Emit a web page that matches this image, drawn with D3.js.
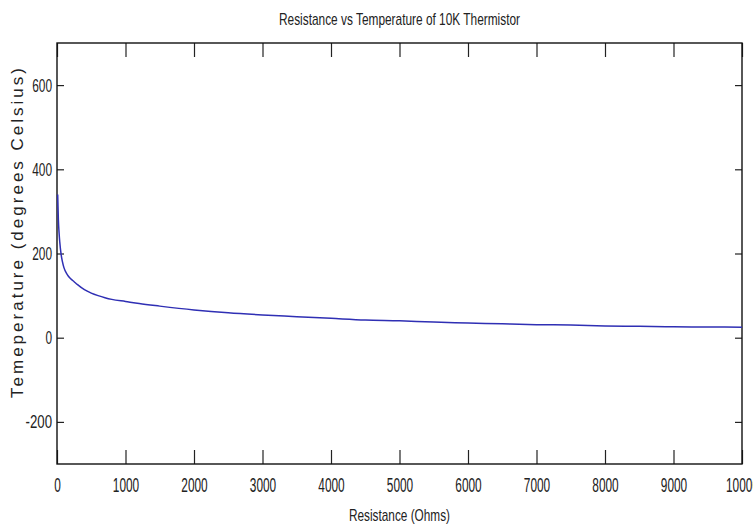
<!DOCTYPE html>
<html>
<head>
<meta charset="utf-8">
<script src="https://d3js.org/d3.v7.min.js"></script>
<style>
  body { margin: 0; background: #fff; }
  svg { display: block; font-family: Arial, "Liberation Sans", sans-serif; }
</style>
</head>
<body>
<div class="chart"></div>
<script>
// Resistance (ohms)
var resistance = [10, 20, 30, 40, 60, 80, 100, 150, 200, 250, 300, 400, 500, 600, 700, 800,
    1000, 1200, 1500, 2000, 2500, 3000, 3500, 4000, 4500, 5000, 5500, 6000, 6500, 7000,
    7500, 8000, 8500, 9000, 9500, 10000];

// Temperature (degrees C) at each resistance
var temperature = [340, 280, 250, 228, 198, 180, 167, 150, 140, 133, 126, 114, 106, 100, 95, 91,
    86, 81, 75, 66, 59, 54, 50, 46, 42, 40, 37, 35, 33, 31,
    30, 28, 27, 26, 25.5, 25];

var xTicks = [0, 1000, 2000, 3000, 4000, 5000, 6000, 7000, 8000, 9000, 10000];
var yTicks = [-200, 0, 200, 400, 600];

var svgWidth = 753;
var svgHeight = 531;

var margin = { top: 43, right: 11, bottom: 67, left: 57 };

var chartWidth = svgWidth - margin.left - margin.right;
var chartHeight = svgHeight - margin.top - margin.bottom;

var svg = d3.select(".chart")
    .append("svg")
    .attr("width", svgWidth)
    .attr("height", svgHeight);

var chartGroup = svg.append("g")
    .attr("transform", `translate(${margin.left}, ${margin.top})`);

var xScale = d3.scaleLinear()
    .domain([0, 10000])
    .range([0, chartWidth]);

var yScale = d3.scaleLinear()
    .domain([-300, 700])
    .range([chartHeight, 0]);

var data = resistance.map(function(r, i) {
    return { r: r, t: temperature[i] };
});

// plain numbers, no thousands separator, ascii minus
var plain = function(d) { return String(d); };

// condensed look of the labels: squeeze each label to a width per character
function squeeze(sel, perChar) {
    sel.attr("textLength", function() { return this.textContent.length * perChar; })
        .attr("lengthAdjust", "spacingAndGlyphs");
}

// Axes, ticks pointing inwards on all four sides
var bottomAxis = d3.axisBottom(xScale).tickValues(xTicks).tickSize(-14).tickPadding(10).tickFormat(plain);
var topAxis = d3.axisTop(xScale).tickValues(xTicks).tickSize(-14).tickFormat("");
var leftAxis = d3.axisLeft(yScale).tickValues(yTicks).tickSize(-7).tickPadding(5).tickFormat(plain);
var rightAxis = d3.axisRight(yScale).tickValues(yTicks).tickSize(-7).tickFormat("");

var gx = chartGroup.append("g")
    .attr("transform", "translate(0, " + chartHeight + ")")
    .call(bottomAxis);
chartGroup.append("g").call(topAxis);
var gy = chartGroup.append("g").call(leftAxis);
chartGroup.append("g")
    .attr("transform", "translate(" + chartWidth + ", 0)")
    .call(rightAxis);

chartGroup.selectAll(".domain").remove();
chartGroup.selectAll(".tick line").attr("stroke", "#222").attr("stroke-width", 1.2);

gx.selectAll("text")
    .attr("font-size", 20)
    .attr("fill", "#222")
    .attr("dy", "0.9em")
    .call(squeeze, 6.6);

gy.selectAll("text")
    .attr("font-size", 19)
    .attr("fill", "#222")
    .call(squeeze, 6.6);

// box around the plot area
chartGroup.append("rect")
    .attr("width", chartWidth)
    .attr("height", chartHeight)
    .attr("fill", "none")
    .attr("stroke", "#111")
    .attr("stroke-width", 1.4);

// the curve
var line = d3.line()
    .x(function(d) { return xScale(d.r); })
    .y(function(d) { return yScale(d.t); })
    .curve(d3.curveMonotoneX);

chartGroup.append("path")
    .datum(data)
    .attr("d", line)
    .attr("fill", "none")
    .attr("stroke", "#2f2fb4")
    .attr("stroke-width", 1.5);

// title and axis labels
svg.append("text")
    .attr("x", margin.left + chartWidth / 2)
    .attr("y", 25)
    .attr("text-anchor", "middle")
    .attr("font-size", 17)
    .attr("fill", "#222")
    .attr("textLength", 241)
    .attr("lengthAdjust", "spacingAndGlyphs")
    .text("Resistance vs Temperature of 10K Thermistor");

svg.append("text")
    .attr("x", margin.left + chartWidth / 2)
    .attr("y", 521)
    .attr("text-anchor", "middle")
    .attr("font-size", 17)
    .attr("fill", "#222")
    .attr("textLength", 101)
    .attr("lengthAdjust", "spacingAndGlyphs")
    .text("Resistance (Ohms)");

svg.append("text")
    .attr("transform", "translate(23, 233) rotate(-90)")
    .attr("text-anchor", "middle")
    .attr("font-size", 17)
    .attr("fill", "#222")
    .attr("textLength", 330)
    .text("Temeperature (degrees Celsius)");
</script>
</body>
</html>
